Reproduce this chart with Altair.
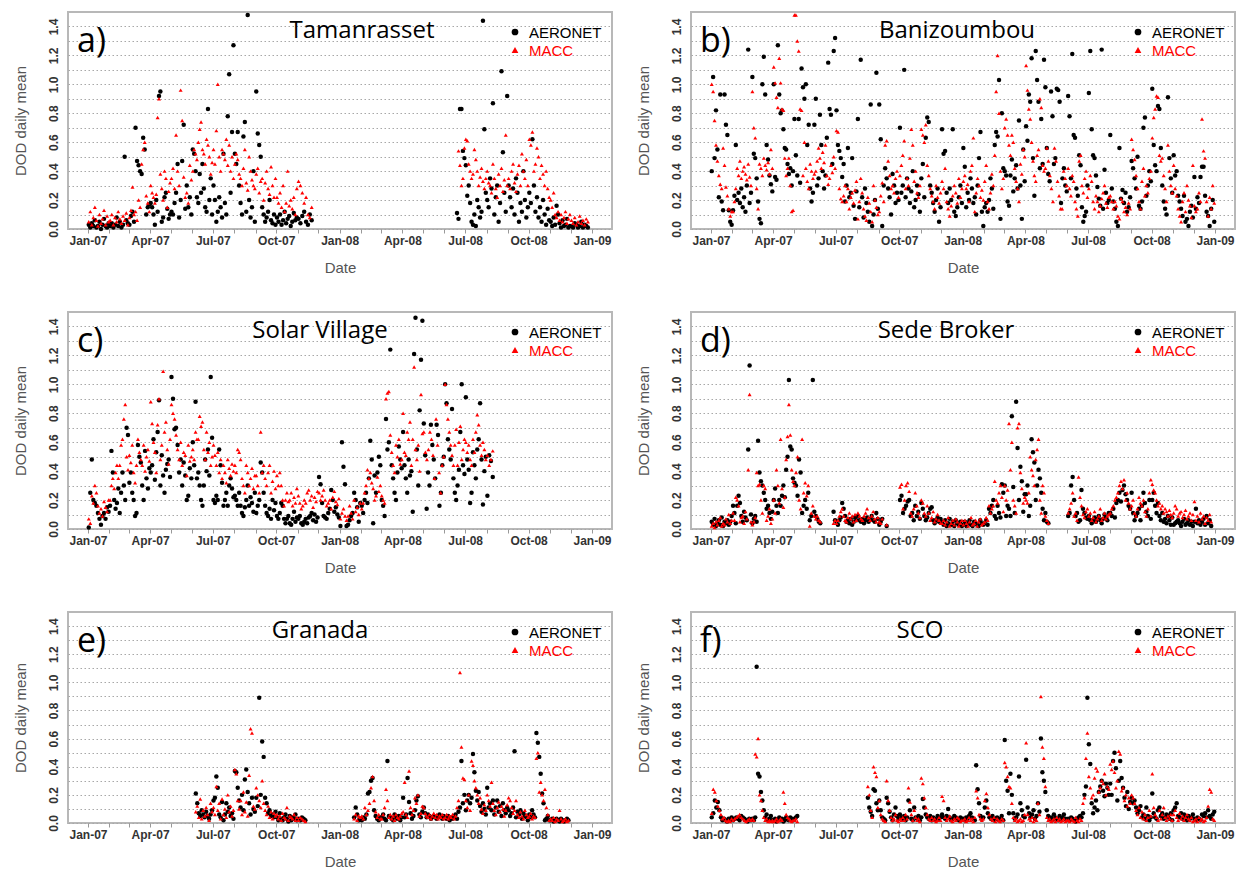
import calendar
from datetime import datetime, timezone
import altair as alt
import pandas as pd

N = None
# Each series: 24 monthly lists (Jan-07 .. Dec-08), daily-mean DOD in hundredths.

TAM_AERONET = [
    [3,1,4,2,6,1,2,5,0,3,7,2,1,4], [2,4,1,3,8,2,5,1,3,50,6,4],
    [3,9,12,5,70,47,44,40,38,63,55,10,15,17], [18,15,10,3,20,12,92,95,5,8,22,25,14,7,10],
    [12,10,18,25,45,8,20,47,72,14,30,15,22,10], [55,52,40,22,18,38,25,45,28,15,12,83,20,35,10],
    [30,20,5,12,22,15,8,52,18,10,78,107,25,67,127], [52,45,67,30,18,10,64,74,12,148,20,8,15,40,5],
    [95,66,58,50,15,10,5,8,12,20,6,4,10,3], [8,5,10,3,6,12,4,7,9,2,5,11,6,8],
    [7,4,9,12,5,3,10,6,N,N,N], [],
    [], [], [], [], [], [N,N,N,N,N,N,N,N,11,7,83,83,54,49],
    [44,23,30,18,5,3,10,2,20,15,8,12,144,69,25], [20,15,35,28,87,10,22,30,5,18,109,53,25,12,92],
    [30,22,15,28,10,35,25,5,18,12,40,20,8,15], [25,18,62,30,12,22,8,15,5,20,10,3,14,6],
    [5,2,8,3,16,10,4,1,6,2,3,7,1,2], [2,1,4,3,1,2,5,1,3,2,1,N,N],
]
TAM_MACC = [
    [5,12,3,8,15,6,2,10,4,7,13,3,9,5], [6,10,3,8,5,12,7,4,9,6,11,3],
    [8,13,29,10,12,6,20,15,45,55,60,23,18,12], [30,25,22,18,24,77,90,38,28,20,40,35,15,26,32],
    [35,42,28,65,40,30,96,75,36,22,25,18,44,34], [40,55,52,48,60,69,74,55,52,45,62,58,50,38,46],
    [55,45,68,100,50,40,55,52,48,62,44,58,40,50,35], [45,52,48,38,35,30,42,55,32,27,50,40,34,30,28],
    [38,42,25,33,35,20,32,40,28,24,43,30,22,35], [22,18,25,15,30,12,18,40,16,20,14,22,10,28],
    [33,30,25,18,22,10,8,15,N,N,N], [],
    [], [], [], [], [], [N,N,N,N,N,N,N,N,N,54,44,30,35,56],
    [62,61,45,40,35,38,55,48,40,30,36,42,33,28,35], [40,32,30,25,45,35,28,22,38,30,42,26,34,65,30],
    [35,28,40,45,32,26,38,44,30,52,40,35,48,30], [62,58,67,40,45,56,50,35,44,38,30,40,28,22],
    [20,15,25,10,8,12,6,10,5,8,12,4,7,10], [6,4,8,3,5,9,4,6,3,7,5,N,N],
]

BAN_AERONET = [
    [40,105,49,82,55,22,93,19,13,93,72,65,13,5,3], [13,23,58,20,25,18,28,15,22,12,30,124,18,25],
    [105,52,49,35,19,7,4,100,119,93,58,48,37,31,26], [100,36,34,127,93,80,82,69,56,55,45,38,42,30,40],
    [76,51,37,76,32,111,98,90,100,58,72,28,19,25,72], [90,30,35,79,58,40,28,37,63,115,83,79,45,123,132],
    [82,58,54,49,36,45,19,30,56,22,25,49,16,7,26], [76,15,117,22,8,28,18,12,5,86,2,10,20,108,14],
    [86,62,2,30,42,35,28,22,10,38,30,18,25,20], [70,25,30,110,22,35,28,18,26,40,15,20,30,24,12],
    [35,45,22,63,77,74,30,25,18,12,20,28,5,15], [69,52,54,25,18,28,20,69,12,9,15,22,30,18],
    [56,43,15,25,20,35,28,18,22,10,30,49,67,12,2], [15,18,12,20,35,28,14,58,67,64,103,7,80,42],
    [40,37,19,16,37,48,26,35,44,28,75,30,7,55,33], [71,61,93,88,118,49,23,123,103,88,42,76,45,117,98],
    [56,38,33,95,78,45,49,97,96,88,18,35,42,30,26], [92,78,35,121,65,63,28,23,51,44,15,5,9,12,30],
    [94,123,69,51,49,37,29,21,16,124,14,41,25,18,20], [65,28,19,14,5,2,56,21,27,18,25,12,15,22],
    [47,42,35,28,50,16,14,19,70,77,23,30,40,33], [97,58,44,40,85,83,56,30,19,14,10,91,49,35,25],
    [51,37,40,23,19,14,9,23,5,7,2,12,16,8], [36,14,22,18,36,43,43,23,12,9,2,14,20,5],
]
BAN_MACC = [
    [100,95,75,58,47,37,31,28,56,44,29,23,14,9,12], [12,19,28,42,37,47,35,40,43,38,34,45,36,30],
    [95,70,63,28,14,45,42,37,49,44,41,46,38,55,42], [112,101,91,84,118,101,83,82,49,37,42,49,30,12,13],
    [148,148,130,123,83,82,37,60,42,33,28,45,40,35,38], [40,47,56,49,42,53,46,58,37,31,35,44,39,50,42],
    [68,67,28,21,19,23,30,19,28,14,22,25,18,27,33], [7,19,35,25,14,9,6,22,18,12,5,30,20,15,10],
    [12,23,32,19,58,61,47,37,28,30,25,35,40,22], [37,44,51,61,28,35,30,49,69,58,33,40,25,22,30],
    [69,65,60,72,44,37,28,23,19,14,30,22,18,25], [33,28,42,19,14,9,16,23,30,25,18,35,22,28],
    [33,37,28,31,19,40,44,63,12,25,35,30,22,27,20], [33,44,19,14,25,38,30,51,95,120,80,40,28,35],
    [70,76,65,58,51,65,60,42,33,28,19,45,38,55,50], [113,96,83,76,60,47,37,33,51,55,90,84,44,40,42],
    [56,47,37,28,19,56,47,33,23,14,14,40,35,30], [42,28,23,37,33,19,14,9,47,51,30,25,35,40,22],
    [28,37,33,19,14,23,19,12,16,21,25,30,18,15,22], [23,19,14,19,16,9,7,21,19,12,15,10,18,14],
    [62,55,48,37,28,19,14,33,42,23,30,25,35,40], [63,77,83,92,91,51,47,49,37,28,19,58,40,30,25],
    [44,28,23,14,9,5,19,25,12,30,20,16,8,44], [16,12,14,25,19,76,54,49,19,9,22,14,30,18],
]

SOL_AERONET = [
    [1,25,48,20,18,16,11,7,3,9,11,7,15,12], [16,54,39,20,14,18,28,11,25,39,30,20,70,65],
    [32,39,25,20,9,11,58,50,46,30,20,54,35,28,42], [39,44,62,34,53,67,89,30,51,37,25,41,45,48,36],
    [105,90,69,70,58,39,48,30,46,37,20,23,42,35], [60,44,88,35,39,30,20,16,30,48,40,55,37,105,63],
    [20,18,23,20,55,44,32,16,20,25,16,30,35,28,22], [23,20,16,25,16,11,9,15,20,30,16,22,18,12,25],
    [11,16,20,46,39,25,16,11,9,14,7,20,13,18], [9,7,11,18,16,7,4,7,9,4,3,7,12,5,8],
    [7,9,4,3,5,7,4,8,9,11,6,10,5,8], [36,31,18,9,8,7,11,14,27,20,12,15,10,8],
    [2,60,43,31,2,3,6,9,11,25,20,15,5,18], [16,11,20,25,18,35,61,48,4,37,25,39,50,44],
    [20,16,9,76,55,60,124,44,35,25,20,39,57,48,42], [67,44,35,25,48,37,40,12,121,146,55,30,82,117,144],
    [73,51,14,39,30,72,58,48,35,72,65,16,25,44,50], [100,87,62,55,48,83,35,25,20,30,41,67,100,44,38],
    [91,48,41,18,25,53,44,35,55,62,87,48,17,40,50], [23,51,47,36,N,N,N,N,N,N,N,N],
    [], [], [], [],
]
SOL_MACC = [
    [7,4,23,18,30,25,16,11,14,9,19,15,12,20], [20,30,35,28,39,44,35,44,58,62,76,86,50,41],
    [51,46,58,39,32,44,62,53,48,44,58,40,50,55,47], [88,73,60,53,39,72,90,48,58,109,67,74,55,45,62],
    [86,80,76,65,55,48,60,44,53,51,37,58,47,50], [55,48,67,62,62,78,71,74,55,48,67,53,60,44,50],
    [58,51,44,53,39,48,35,44,39,32,48,42,37,45,40], [44,39,55,53,48,35,30,25,44,39,30,35,42,28,37],
    [37,30,25,67,39,44,35,30,39,44,25,33,40,28], [37,30,39,30,20,16,20,25,19,20,25,16,22,18,28],
    [23,18,14,16,20,18,25,27,20,23,15,22,19,26], [25,20,23,27,20,16,18,20,14,22,26,19,17,21],
    [7,11,14,9,6,9,16,11,7,20,12,15,10,18], [14,18,25,30,41,35,39,32,28,20,23,36,26,30],
    [23,20,18,90,94,95,65,53,44,39,58,50,62,45,48], [80,53,51,67,62,74,44,62,112,55,48,58,40,93,66],
    [67,53,48,55,67,62,51,35,76,58,39,25,44,50], [100,86,76,67,58,51,44,58,69,44,60,71,48,55,62],
    [60,53,58,48,44,62,53,67,79,72,58,51,60,55,48], [51,44,48,54,N,N,N,N,N,N,N,N],
    [], [], [], [],
]

SED_AERONET = [
    [5,3,7,2,4,6,3,8,2,5,4,6,3,5,9], [16,11,4,16,23,18,9,5,12,8,6,55,113,10],
    [4,7,9,5,61,39,33,30,25,20,14,16,11,7,12], [20,28,16,11,20,16,23,30,22,41,50,103,57,55,35],
    [32,30,23,48,39,11,16,20,14,25,6,9,103,12], [9,7,5,4,N,N,N,N,N,N,N,N,12,6],
    [5,3,6,8,18,14,9,5,6,4,7,3,5,8,6], [9,6,5,7,4,6,8,5,7,9,6,5,11,7],
    [3,5,7,N,N,2,N,N,N,N,N,N,N,N], [20,23,11,14,16,19,20,9,11,6,16,9,12,7],
    [18,14,9,6,8,11,14,15,6,4,6,8,5,7], [5,3,6,2,4,7,3,5,2,6,4,3,5,2],
    [3,5,2,4,6,3,2,5,4,3,2,6,4,3], [4,6,3,14,11,16,20,9,7,16,11,8,31,25],
    [30,9,16,14,9,78,29,11,88,56,20,43,33,12,24], [24,30,9,16,62,53,46,20,30,41,35,25,14,6,11],
    [5,4,N,N,N,N,N,N,N,N,N,N,N,N], [9,11,30,36,20,9,11,5,6,27,14,11,8,7],
    [9,6,4,6,8,5,7,9,6,4,7,10,8,6,11], [11,9,14,8,18,20,25,19,27,30,24,20,16,14],
    [25,11,6,9,11,14,6,16,25,18,12,9,20,7], [20,25,16,11,18,9,6,11,5,7,4,9,6,3,8],
    [3,4,5,6,4,2,5,7,3,4,6,3,5,2], [5,14,4,6,3,5,7,3,9,4,6,2,N,N],
]
SED_MACC = [
    [2,4,1,5,3,6,8,2,4,3,7,5,10,4,6], [11,6,22,20,16,5,8,9,4,12,7,41,93,5],
    [3,5,8,39,30,31,20,11,30,28,6,9,14,4,7], [20,11,41,30,18,62,28,15,22,48,64,86,65,41,33],
    [30,39,50,20,14,62,25,32,23,30,2,11,16,9], [7,9,6,5,N,N,N,N,N,N,N,N,4,6],
    [4,6,9,12,14,9,6,5,8,11,7,9,5,10,6], [11,9,7,6,9,11,14,8,6,9,12,7,5,8],
    [5,4,7,N,N,3,N,N,N,N,N,N,N,N], [29,31,14,20,30,32,26,11,9,14,25,16,11,8],
    [20,18,11,9,16,11,6,8,12,5,7,10,6,4], [4,6,3,5,8,2,4,6,3,7,5,2,4,6],
    [3,6,4,2,5,8,3,4,6,2,5,7,3,4], [5,8,6,16,11,14,16,33,20,18,25,30,22,12],
    [30,20,27,73,41,60,20,16,11,70,73,39,28,18,22], [20,18,25,50,41,37,30,48,55,62,20,11,30,25,9],
    [6,4,N,N,N,N,N,N,N,N,N,N,N,N], [11,14,18,25,9,11,6,36,22,16,10,8,12,14],
    [9,11,6,8,12,5,7,9,14,6,8,11,7,9,10], [11,14,16,20,22,25,30,33,28,34,20,25,18,14],
    [16,20,11,9,14,22,18,16,20,12,9,14,25,34], [31,27,25,20,16,18,14,16,11,14,12,9,13,10,8],
    [11,16,14,9,11,12,8,10,13,7,9,11,6,10], [19,6,9,5,11,7,9,4,8,6,10,5,N,N],
]

GRA_AERONET = [
    [], [], [], [], [], [N,N,21,14,7,5,9,6,4,8,5,3,6,9],
    [16,18,33,25,6,4,15,2,6,14,8,11,5,7,3], [37,36,25,16,11,20,9,31,38,22,14,6,18,10,8],
    [18,12,89,20,58,47,18,14,7,9,5,6,4,8], [4,2,7,3,2,4,6,3,1,5,2,4,3,6,2],
    [3,2,4,3,2,N,N,N,N,N,N,N], [],
    [N,N,N,N,N,N,N,N,N,4,11,6,2,3], [2,4,3,6,21,22,30,32,9,5,3,2,4],
    [4,6,3,2,44,5,4,3,2,6,4,3,5,2,4], [18,4,6,32,15,7,3,5,9,16,19,6,4,8],
    [11,7,4,6,5,3,4,5,4,3,5,6,4,3,5], [4,3,5,2,4,3,5,6,3,8,11,44,14,20],
    [9,16,20,14,18,49,36,23,16,22,12,8,14,10,6], [25,11,14,9,16,6,11,16,8,12,5,14,9,7,11],
    [9,5,7,11,51,4,8,6,9,3,7,5,4,2], [6,4,9,6,4,64,57,47,35,21,14,2,3,5,2],
    [2,3,1,2,3,2,1,3,2,1,2,3,2,N], [],
]
GRA_MACC = [
    [], [], [], [], [], [N,N,8,12,4,17,3,9,5,11,6,2,14,8],
    [11,6,26,9,14,3,17,6,10,4,20,8,12,5,9], [38,35,16,10,16,6,22,8,15,5,34,67,64,12,10],
    [25,20,16,11,30,14,9,6,12,4,8,3,7,5], [6,3,5,2,7,4,3,11,2,5,4,3,6,2,4],
    [2,4,3,2,1,N,N,N,N,N,N,N], [],
    [N,N,N,N,N,N,N,N,N,3,6,2,5,4], [5,3,11,6,9,14,25,33,16,8,4,6,3],
    [3,6,11,24,16,4,6,3,5,2,6,4,3,5,7], [8,29,6,4,37,11,6,9,18,14,20,5,7,12],
    [11,7,5,4,6,3,5,7,4,6,3,5,4,6,3], [4,6,3,5,4,6,3,5,11,16,107,54,32,31],
    [16,11,20,9,44,41,30,25,20,14,18,10,7,13,9], [20,16,12,29,14,9,6,11,15,8,12,10,5,9,13],
    [18,16,11,7,9,16,6,4,8,5,3,9,6,4], [5,7,3,5,4,46,50,22,29,20,16,24,11,6,2],
    [3,2,4,1,3,2,9,3,1,2,3,1,2,N], [],
]

SCO_AERONET = [
    [4,7,16,11,15,9,4,2,3,2,1,3,2,4], [2,3,4,3,2,5,4,3,2,1,3,2],
    [3,2,4,111,35,33,22,16,9,4,6,2,3,5,2], [2,3,1,2,4,2,3,1,2,4,3,2,4,3,2],
    [3,4,5,N,N,N,N,N,N,N,N,N,N,N,N], [], [],
    [N,N,N,N,N,N,N,18,11,8,5,24,23,14,9], [16,9,4,3,2,18,14,8,4,2,6,11,5,3],
    [6,4,3,5,2,4,16,9,3,2,11,4,3,5,2], [4,17,11,6,4,3,5,2,4,3,2,5,3,4],
    [6,4,3,5,10,4,2,3,5,4,3,2,4,3],
    [3,2,4,3,5,7,4,3,2,41,24,14,5,3,4], [11,16,7,4,3,5,2,3,4,2,3,5,2],
    [59,30,23,7,35,20,7,3,4,6,33,14,9,5,4], [45,11,7,4,6,9,3,5,14,8,60,36,30,22],
    [9,5,3,4,2,6,4,3,2,5,3,4,6,3,2], [3,2,4,3,2,1,3,4,5,4,7,20,26,89],
    [56,42,14,7,11,16,9,22,26,30,23,19,28,25,20], [28,20,44,50,39,16,30,44,32,25,18,12,22,10,15],
    [18,14,16,11,7,9,12,4,6,3,11,5,2,4], [21,7,4,3,9,11,5,7,3,4,6,5,3,7,2],
    [9,11,14,5,4,7,3,6,4,2,5,3,4,6], [3,2,4,3,2,6,5,7,4,9,5,3,6,8],
]
SCO_MACC = [
    [7,24,22,16,12,9,6,3,4,2,1,2,1,3], [2,3,4,5,6,4,3,2,1,2,3,2],
    [3,2,49,47,60,20,16,9,4,2,3,1,2,1,2], [1,2,3,1,2,3,2,22,14,6,4,3,2,1,2],
    [2,3,1,N,N,N,N,N,N,N,N,N,N,N,N], [], [],
    [N,N,N,N,N,N,N,26,20,9,4,40,36,33,11], [16,6,3,2,1,30,16,9,4,2,3,6,2,1],
    [3,2,4,2,6,3,25,15,6,2,9,4,2,3,1], [32,28,18,11,6,3,2,4,2,3,1,2,4,2],
    [19,16,4,2,3,5,2,1,3,2,4,3,1,2],
    [2,3,1,2,4,2,3,1,4,23,18,6,3,2,3], [16,21,11,6,3,2,4,1,3,2,1,3,2],
    [43,40,33,26,25,14,4,2,3,1,2,3,1,2,6], [57,6,3,2,4,1,3,2,14,6,90,54,46,26],
    [4,2,3,1,2,3,1,4,2,3,1,2,3,1,2], [2,1,3,2,1,4,2,1,3,2,14,18,46,64],
    [33,25,18,20,32,39,37,22,25,30,28,35,20,26,24], [42,38,44,36,25,30,51,49,23,25,16,20,12,18,14],
    [20,18,14,9,6,11,4,8,3,6,2,4,9,5], [35,11,6,4,2,9,3,6,11,4,2,5,3,6,2],
    [6,9,4,2,7,3,5,2,4,6,3,2,4,1], [2,3,1,4,2,3,1,2,4,12,24,22,3,2],
]

PANELS = [
    ("a)", "Tamanrasset", 294, TAM_AERONET, TAM_MACC),
    ("b)", "Banizoumbou", 266, BAN_AERONET, BAN_MACC),
    ("c)", "Solar Village", 252, SOL_AERONET, SOL_MACC),
    ("d)", "Sede Broker", 255, SED_AERONET, SED_MACC),
    ("e)", "Granada", 252, GRA_AERONET, GRA_MACC),
    ("f)", "SCO", 229, SCO_AERONET, SCO_MACC),
]

MONTHS = [(y, m) for y in (2007, 2008) for m in range(1, 13)]


def ms(y, m, d=1):
    return datetime(y, m, d, tzinfo=timezone.utc).timestamp() * 1000


X_DOMAIN = [ms(2006, 12, 3), ms(2009, 1, 30)]
X_TICKS = [ms(y, m) for y, m in MONTHS] + [ms(2009, 1)]
Y_TICKS = [i / 10 for i in range(15)]


def frame(series):
    rows = []
    for (y, m), vals in zip(MONTHS, series):
        if not vals:
            continue
        days = calendar.monthrange(y, m)[1]
        step = days / len(vals)
        for j, v in enumerate(vals):
            if v is None:
                continue
            rows.append({"date": ms(y, m) + (j + 0.5) * step * 86400000, "dod": v / 100})
    return pd.DataFrame(rows)


W = 544
ONE = pd.DataFrame({"k": [0]})

x_enc = alt.X(
    "date:T", title="Date",
    scale=alt.Scale(type="utc", domain=X_DOMAIN, nice=False),
    axis=alt.Axis(
        values=X_TICKS,
        labelExpr="utcmonth(datum.value) % 3 == 0 ? utcFormat(datum.value, '%b-%y') : ''",
        grid=False, domain=False, ticks=True, tickSize=4, tickColor="#999999",
        labelPadding=2, labelOverlap=False, labelBound=False, labelFlush=False,
        titleY=38, titleBaseline="middle",
    ),
)


def y_enc(h):
    return alt.Y(
        "dod:Q", title="DOD daily mean",
        scale=alt.Scale(domain=[0, 1.5], nice=False, zero=False),
        axis=alt.Axis(
            values=Y_TICKS,
            labelExpr="round(datum.value * 10) % 2 == 0 ? format(datum.value, '.1f') : ''",
            grid=True, gridColor="#a8a8a8", gridDash=[1.5, 2.5], gridWidth=1.2,
            domain=False, ticks=False, tickSize=0, labelPadding=8,
            labelAngle=270, labelAlign="center", labelBaseline="bottom", labelOverlap=False,
            titleAngle=270, titleX=-48, titleY=h / 2, titleAlign="center", titleBaseline="middle",
        ),
    )


def txt(text, x, y, size, color="black", font="Open Sans", align="left"):
    return alt.Chart(ONE).mark_text(
        text=text, font=font, fontSize=size, color=color, align=align, baseline="alphabetic"
    ).encode(x=alt.value(x), y=alt.value(y))


def panel(letter, station, title_x, aer, macc, h):
    ye = y_enc(h)
    black = alt.Chart(frame(aer)).mark_point(
        shape="circle", filled=True, size=20, color="black", opacity=1
    ).encode(x=x_enc, y=ye)
    red = alt.Chart(frame(macc)).mark_point(
        shape="triangle-up", filled=True, size=16, color="#ff0000", opacity=1
    ).encode(x=x_enc, y=ye)
    leg_dot = alt.Chart(ONE).mark_point(shape="circle", filled=True, size=45, color="black", opacity=1).encode(
        x=alt.value(W - 97), y=alt.value(20))
    leg_tri = alt.Chart(ONE).mark_point(shape="triangle-up", filled=True, size=45, color="#ff0000", opacity=1).encode(
        x=alt.value(W - 97), y=alt.value(38))
    return alt.layer(
        black, red,
        txt(letter, 9, 40, 34),
        txt(station, title_x, 26, 24, align="center"),
        leg_dot, leg_tri,
        txt("AERONET", W - 83, 26, 15, font="Liberation Sans"),
        txt("MACC", W - 83, 44, 15, color="#ff0000", font="Liberation Sans"),
    ).properties(width=W, height=h)


HEIGHTS = [217, 217, 217, 217, 211, 211]
charts = [panel(*p, h) for p, h in zip(PANELS, HEIGHTS)]
rows = [alt.hconcat(charts[i], charts[i + 1], spacing=22) for i in (0, 2, 4)]

chart = alt.vconcat(*rows, spacing=35).properties(
    padding={"left": 4, "top": 3, "right": 5, "bottom": 0}, background="white"
).configure_view(
    stroke="#b8b8b8", strokeWidth=2
).configure_axis(
    labelFont="Liberation Sans", labelFontSize=12, labelFontWeight="bold", labelColor="#333333",
    titleFont="Liberation Sans", titleFontSize=15, titleFontWeight="normal", titleColor="#555555",
)

chart.save("out.html", embed_options={"renderer": "svg", "actions": False})
